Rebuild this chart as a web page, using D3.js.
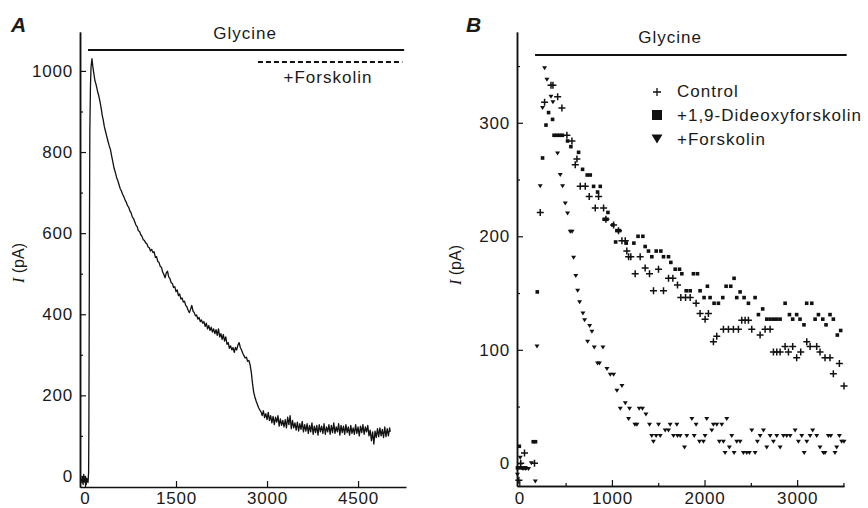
<!DOCTYPE html>
<html>
<head>
<meta charset="utf-8">
<script src="https://cdn.jsdelivr.net/npm/d3@7"></script>
<style>
  body { margin: 0; background: #fff; }
  svg text { font-family: "Liberation Sans", Arial, Helvetica, sans-serif; fill: #1a1a1a; }
</style>
</head>
<body>
<div class="painter"></div>
<script>
// ---- panel A: whole-cell current trace, [time, I(pA)]
const traceA = [
  [-60, -5], [-50, -15], [-40, 0], [-30, -20], [-20, 5], [-10, -10], [0, -15], [10, 0], [20, -20], [30, -5],
  [40, -10], [50, -15], [60, 10], [65, 150], [70, 400], [75, 650], [80, 850], [90, 960], [100, 1010], [115, 1030],
  [130, 1010], [150, 990], [165, 975], [180, 968], [195, 958], [210, 948], [225, 940], [240, 930], [255, 918], [270, 905],
  [285, 890], [300, 880], [320, 862], [340, 850], [360, 838], [380, 826], [400, 815], [420, 806], [440, 790], [460, 775],
  [480, 760], [500, 750], [520, 738], [540, 730], [560, 720], [580, 710], [600, 704], [620, 696], [640, 690], [660, 682],
  [680, 676], [700, 668], [720, 664], [740, 655], [760, 650], [780, 640], [800, 636], [820, 628], [840, 620], [860, 616],
  [880, 606], [900, 604], [920, 596], [940, 592], [960, 584], [980, 582], [1000, 576], [1020, 574], [1040, 566], [1060, 564],
  [1080, 556], [1100, 560], [1120, 552], [1140, 554], [1160, 540], [1180, 542], [1200, 530], [1220, 528], [1240, 518], [1260, 516],
  [1280, 504], [1300, 498], [1320, 490], [1340, 502], [1360, 506], [1380, 492], [1400, 488], [1420, 478], [1440, 476], [1460, 466],
  [1480, 468], [1500, 456], [1520, 460], [1540, 446], [1560, 450], [1580, 438], [1600, 440], [1620, 430], [1640, 432], [1660, 422],
  [1680, 418], [1700, 410], [1720, 404], [1740, 412], [1760, 422], [1780, 408], [1800, 404], [1820, 396], [1840, 398], [1860, 388],
  [1880, 392], [1900, 382], [1920, 386], [1940, 378], [1960, 382], [1980, 370], [2000, 378], [2020, 364], [2040, 372], [2060, 360],
  [2080, 368], [2100, 356], [2120, 364], [2140, 352], [2160, 362], [2180, 348], [2200, 364], [2220, 344], [2240, 352], [2260, 338],
  [2280, 350], [2300, 334], [2320, 344], [2340, 326], [2360, 330], [2380, 316], [2400, 322], [2420, 312], [2440, 318], [2460, 306],
  [2480, 318], [2500, 312], [2520, 324], [2540, 330], [2560, 318], [2580, 312], [2600, 304], [2620, 298], [2640, 292], [2660, 294],
  [2680, 284], [2700, 286], [2720, 276], [2740, 258], [2760, 230], [2780, 208], [2800, 196], [2820, 186], [2840, 178], [2860, 170],
  [2880, 164], [2900, 160], [2920, 150], [2940, 162], [2960, 145], [2980, 155], [3000, 140], [3020, 158], [3040, 138], [3060, 150],
  [3080, 132], [3100, 148], [3120, 128], [3140, 146], [3160, 134], [3180, 150], [3200, 124], [3220, 142], [3240, 126], [3260, 138],
  [3280, 122], [3300, 140], [3320, 120], [3340, 146], [3360, 128], [3380, 150], [3400, 118], [3420, 138], [3440, 120], [3460, 132],
  [3480, 114], [3500, 134], [3520, 112], [3540, 130], [3560, 116], [3580, 136], [3600, 110], [3620, 128], [3640, 112], [3660, 130],
  [3680, 106], [3700, 126], [3720, 110], [3740, 132], [3760, 104], [3780, 124], [3800, 108], [3820, 126], [3840, 102], [3860, 128],
  [3880, 110], [3900, 124], [3920, 106], [3940, 130], [3960, 104], [3980, 122], [4000, 110], [4020, 128], [4040, 104], [4060, 126],
  [4080, 108], [4100, 132], [4120, 106], [4140, 122], [4160, 110], [4180, 130], [4200, 102], [4220, 126], [4240, 108], [4260, 124],
  [4280, 104], [4300, 128], [4320, 108], [4340, 122], [4360, 102], [4380, 126], [4400, 106], [4420, 120], [4440, 104], [4460, 128],
  [4480, 106], [4500, 122], [4520, 100], [4540, 124], [4560, 108], [4580, 128], [4600, 104], [4620, 122], [4640, 110], [4660, 126],
  [4680, 100], [4700, 114], [4720, 88], [4740, 110], [4760, 80], [4780, 112], [4800, 96], [4820, 118], [4840, 98], [4860, 120],
  [4880, 100], [4900, 116], [4920, 96], [4940, 122], [4960, 98], [4980, 118], [5000, 100], [5020, 120], [5030, 110]
]
const ticksAx = [0, 1500, 3000, 4500]
const ticksAy = [0, 200, 400, 600, 800, 1000]
const minorAy = [100, 300, 500, 700, 900]
const glycineA = [50, 5260]
const forskolinA = [2850, 5230]

// ---- panel B: peak currents of the three conditions, [time, I(pA)]
const control = [
  [-5, -15], [15, 0], [56, 9], [164, 0], [226, 221], [273, 318], [342, 333], [363, 333], [414, 323], [460, 313],
  [514, 289], [568, 284], [604, 263], [622, 268], [658, 244], [712, 244], [755, 235], [820, 225], [856, 235], [910, 225],
  [935, 215], [1018, 210], [1071, 205], [1108, 196], [1144, 196], [1161, 187], [1180, 182], [1204, 182], [1251, 167], [1305, 182],
  [1359, 172], [1406, 167], [1449, 152], [1503, 171], [1557, 152], [1611, 163], [1658, 163], [1708, 157], [1744, 146], [1795, 146],
  [1845, 146], [1909, 141], [1952, 132], [2006, 127], [2042, 132], [2096, 107], [2132, 112], [2204, 118], [2258, 118], [2312, 118],
  [2366, 118], [2402, 126], [2438, 126], [2474, 126], [2510, 118], [2600, 113], [2654, 118], [2708, 118], [2744, 98], [2780, 98],
  [2816, 98], [2870, 103], [2906, 98], [2952, 103], [2995, 93], [3039, 98], [3104, 107], [3140, 103], [3211, 103], [3247, 98],
  [3301, 93], [3355, 93], [3391, 79], [3456, 88], [3506, 68]
]
const dideoxy = [
  [0, 15], [-20, -4], [10, -4], [40, -4], [70, -4], [150, 19], [175, 19], [194, 151], [251, 269], [288, 298],
  [316, 309], [359, 303], [375, 289], [405, 289], [435, 289], [465, 289], [521, 284], [557, 279], [640, 274], [683, 259],
  [733, 254], [766, 254], [802, 244], [845, 239], [874, 244], [917, 215], [946, 215], [957, 221], [1010, 210], [1040, 195],
  [1054, 205], [1082, 205], [1154, 194], [1237, 194], [1282, 200], [1334, 200], [1359, 191], [1395, 187], [1431, 182], [1478, 187],
  [1528, 187], [1557, 182], [1611, 182], [1636, 177], [1683, 171], [1730, 171], [1755, 167], [1802, 152], [1845, 152], [1880, 167],
  [1924, 167], [1952, 152], [1995, 146], [2031, 156], [2060, 146], [2103, 141], [2150, 141], [2197, 146], [2233, 156], [2283, 156],
  [2319, 163], [2348, 146], [2384, 151], [2427, 146], [2474, 141], [2546, 146], [2582, 131], [2628, 136], [2672, 127], [2708, 127],
  [2744, 127], [2780, 127], [2816, 127], [2870, 141], [2917, 131], [2952, 127], [2995, 131], [3031, 127], [3074, 122], [3103, 141],
  [3158, 141], [3194, 127], [3230, 131], [3277, 127], [3312, 122], [3355, 131], [3391, 127], [3434, 113], [3470, 117]
]
const forskolin = [
  [-20, -10], [10, 5], [40, -5], [70, -5], [100, -5], [130, 0], [173, -16], [191, 103], [226, 244], [251, 313],
  [273, 348], [298, 338], [342, 323], [363, 318], [413, 273], [442, 254], [467, 244], [496, 229], [521, 220], [550, 204],
  [570, 204], [586, 181], [610, 165], [630, 152], [651, 142], [687, 132], [705, 126], [737, 107], [759, 121], [784, 116],
  [809, 102], [845, 88], [865, 88], [903, 102], [946, 83], [982, 78], [1018, 78], [1054, 64], [1090, 48], [1108, 68],
  [1144, 53], [1180, 39], [1190, 48], [1248, 34], [1270, 34], [1295, 48], [1330, 48], [1367, 43], [1406, 34], [1430, 24],
  [1448, 19], [1477, 24], [1503, 34], [1521, 24], [1575, 29], [1611, 29], [1629, 34], [1665, 24], [1701, 34], [1708, 24],
  [1737, 24], [1784, 14], [1809, 24], [1863, 39], [1888, 24], [1909, 34], [1945, 19], [1988, 19], [2006, 24], [2024, 39],
  [2078, 29], [2096, 34], [2132, 34], [2160, 19], [2186, 34], [2204, 19], [2222, 9], [2240, 39], [2268, 14], [2294, 24],
  [2319, 9], [2348, 19], [2384, 19], [2420, 9], [2456, 9], [2484, 9], [2510, 29], [2546, 9], [2571, 19], [2600, 24],
  [2636, 29], [2672, 14], [2708, 24], [2744, 19], [2780, 24], [2816, 14], [2852, 24], [2888, 24], [2924, 24], [2978, 29],
  [3014, 19], [3050, 24], [3076, 9], [3104, 19], [3140, 24], [3168, 29], [3211, 24], [3247, 14], [3283, 9], [3301, 9],
  [3337, 24], [3363, 24], [3409, 9], [3427, 14], [3456, 24], [3481, 19], [3506, 19]
]
const ticksBx = [0, 1000, 2000, 3000]
const minorBx = [500, 1500, 2500, 3500]
const ticksBy = [0, 100, 200, 300]
const minorBy = [50, 150, 250, 350]
const glycineB = [170, 3535]
const legendNames = ['Control', '+1,9-Dideoxyforskolin', '+Forskolin']

const FONT = '"Liberation Sans", Arial, Helvetica, sans-serif'

const svg = d3.select('.painter')
  .append('svg')
  .attr('width', 868)
  .attr('height', 508)

svg.append('rect').attr('width', 868).attr('height', 508).attr('fill', '#fff')

// draws a pair of axes with inward ticks, like the original figure
function drawAxes(x, y, xt, xm, yt, ym) {
  const x0 = x.range()[0], y0 = y.range()[0]
  // x labels sit right at the bottom edge, as in the figure
  const gx = svg.append('g').attr('transform', `translate(0,${y0})`)
    .call(d3.axisBottom(x).tickValues(xt).tickSizeInner(-6).tickSizeOuter(0).tickPadding(504 - y0 - 12).tickFormat(d3.format('d')))
  if (xm.length) {
    svg.append('g').attr('transform', `translate(0,${y0})`)
      .call(d3.axisBottom(x).tickValues(xm).tickSizeInner(-3).tickSizeOuter(0).tickFormat(''))
  }
  const gy = svg.append('g').attr('transform', `translate(${x0},0)`)
    .call(d3.axisLeft(y).tickValues(yt).tickSizeInner(-6).tickSizeOuter(0).tickPadding(7).tickFormat(d3.format('d')))
  svg.append('g').attr('transform', `translate(${x0},0)`)
    .call(d3.axisLeft(y).tickValues(ym).tickSizeInner(-3).tickSizeOuter(0).tickFormat(''))

  svg.selectAll('.domain').attr('stroke', '#111').attr('stroke-width', 1.5)
  svg.selectAll('.tick line').attr('stroke', '#111').attr('stroke-width', 1.2)
  gx.selectAll('text').attr('font-size', 17).attr('letter-spacing', 0.8).style('font-family', FONT).attr('fill', '#1a1a1a')
  gy.selectAll('text').attr('font-size', 17).attr('letter-spacing', 0.8).style('font-family', FONT).attr('fill', '#1a1a1a')
}

function yLabel(cx, cy) {
  const t = svg.append('text')
    .attr('transform', `translate(${cx},${cy}) rotate(-90)`)
    .attr('text-anchor', 'middle')
    .attr('font-size', 16)
  t.append('tspan').text('I').attr('font-style', 'italic').style('font-family', '"Liberation Serif", "Times New Roman", serif')
  t.append('tspan').text(' (pA)')
}

function label(x, y, s, anchor) {
  return svg.append('text').attr('x', x).attr('y', y)
    .attr('text-anchor', anchor || 'start')
    .attr('font-size', 17).attr('letter-spacing', 1)
    .text(s)
}

// ---------------- panel A
const xA = d3.scaleLinear().domain([-82, 5290]).range([80, 406])
const yA = d3.scaleLinear().domain([-26, 1096]).range([487, 32])

drawAxes(xA, yA, ticksAx, [], ticksAy, minorAy)

svg.append('path')
  .datum(traceA)
  .attr('d', d3.line().x(d => xA(d[0])).y(d => yA(d[1])))
  .attr('fill', 'none')
  .attr('stroke', '#111')
  .attr('stroke-width', 1.3)
  .attr('stroke-linejoin', 'round')

svg.append('line')
  .attr('x1', xA(glycineA[0])).attr('x2', xA(glycineA[1]))
  .attr('y1', 50).attr('y2', 50)
  .attr('stroke', '#111').attr('stroke-width', 2)

svg.append('line')
  .attr('x1', xA(forskolinA[0])).attr('x2', xA(forskolinA[1]))
  .attr('y1', 62).attr('y2', 62)
  .attr('stroke', '#111').attr('stroke-width', 2)
  .attr('stroke-dasharray', '5,3')

label(245, 39, 'Glycine', 'middle')
label(328, 83, '+Forskolin', 'middle')
svg.append('text').attr('x', 11).attr('y', 32).attr('font-size', 21).attr('font-weight', 'bold').attr('font-style', 'italic').text('A')
yLabel(24, 263)

// ---------------- panel B
const xB = d3.scaleLinear().domain([-25, 3506]).range([517, 844])
const yB = d3.scaleLinear().domain([-20, 380]).range([486, 32])

drawAxes(xB, yB, ticksBx, minorBx, ticksBy, minorBy)

svg.append('line')
  .attr('x1', xB(glycineB[0])).attr('x2', xB(glycineB[1]))
  .attr('y1', 55).attr('y2', 55)
  .attr('stroke', '#111').attr('stroke-width', 2)

label(670, 43, 'Glycine', 'middle')
svg.append('text').attr('x', 466).attr('y', 32).attr('font-size', 21).attr('font-weight', 'bold').attr('font-style', 'italic').text('B')
yLabel(461, 265)

const plus = 'M-3.5,0H3.5M0,-3.5V3.5'
const tri = (s) => `M${-s},${-s * 0.8}H${s}L0,${s * 0.8}Z`

svg.append('g').selectAll('path')
  .data(control)
  .join('path')
  .attr('transform', d => `translate(${xB(d[0])},${yB(d[1])})`)
  .attr('d', plus)
  .attr('stroke', '#111').attr('stroke-width', 1.5)

svg.append('g').selectAll('rect')
  .data(dideoxy)
  .join('rect')
  .attr('x', d => xB(d[0]) - 1.8).attr('y', d => yB(d[1]) - 1.8)
  .attr('width', 3.6).attr('height', 3.6)
  .attr('fill', '#111')

svg.append('g').selectAll('path')
  .data(forskolin)
  .join('path')
  .attr('transform', d => `translate(${xB(d[0])},${yB(d[1])})`)
  .attr('d', tri(2.5))
  .attr('fill', '#111')

// legend
const lg = svg.append('g')
lg.append('path').attr('transform', 'translate(657,92)').attr('d', 'M-4,0H4M0,-4V4').attr('stroke', '#111').attr('stroke-width', 1.3)
lg.append('rect').attr('x', 652).attr('y', 110).attr('width', 10).attr('height', 10).attr('fill', '#111')
lg.append('path').attr('transform', 'translate(657,139)').attr('d', tri(5.5)).attr('fill', '#111')
legendNames.forEach((n, i) => {
  label(677, 97 + i * 24, n)
})
</script>
</body>
</html>
